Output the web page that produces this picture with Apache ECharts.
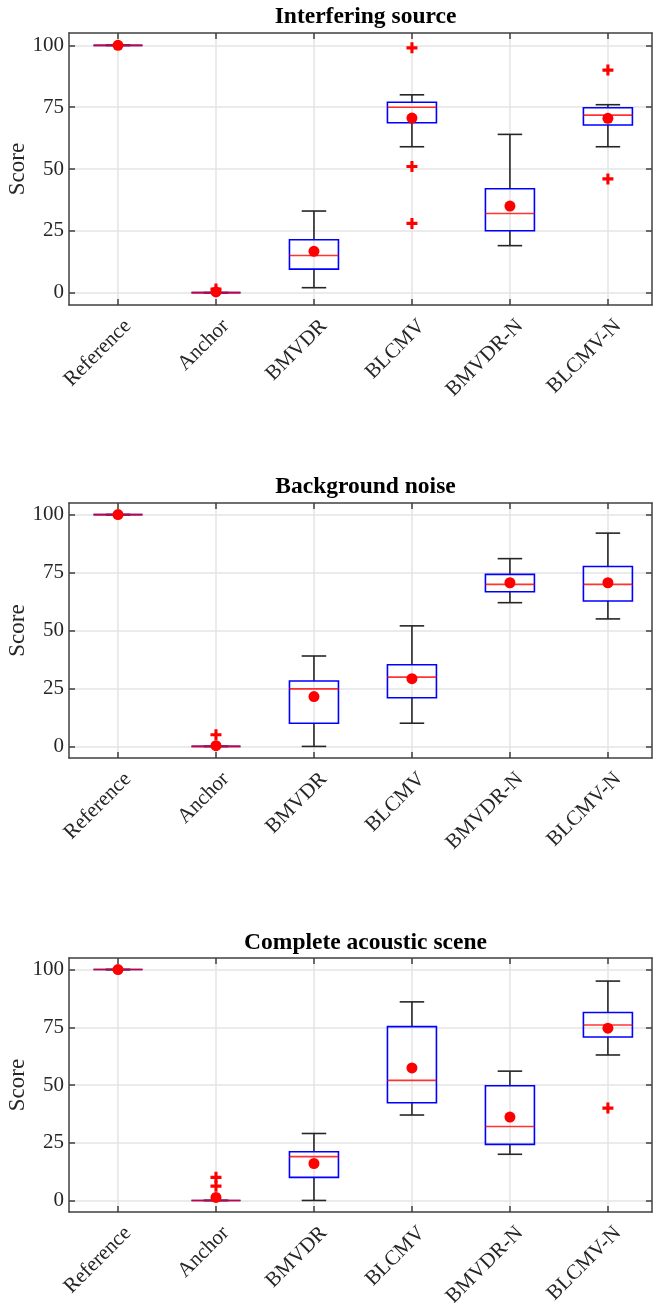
<!DOCTYPE html>
<html>
<head>
<meta charset="utf-8">
<script src="https://cdn.jsdelivr.net/npm/echarts@6/dist/echarts.min.js"></script>
<style>html,body{margin:0;padding:0;background:#fff;}#c{width:654px;height:1303px;}</style>
</head>
<body>
<div id="c"></div>
<script>
// ---------- DATA ----------
const categories = ['Reference', 'Anchor', 'BMVDR', 'BLCMV', 'BMVDR-N', 'BLCMV-N'];
const yTicks = [0, 25, 50, 75, 100];
const titles = ['Interfering source', 'Background noise', 'Complete acoustic scene'];

// Panel 1: Interfering source
const whiskerLow1  = [100, 0, 2, 59, 19, 59];
const q1_1         = [100, 0, 9.5, 68.7, 25, 67.8];
const median1      = [100, 0, 15, 75, 32, 71.8];
const q3_1         = [100, 0, 21.4, 77, 42, 74.8];
const whiskerHigh1 = [100, 0, 33, 80, 64, 76];
const mean1        = [100, 0.3, 16.7, 70.6, 35, 70.5];
const outliers1    = [['Anchor', 1.5], ['BLCMV', 99], ['BLCMV', 51], ['BLCMV', 28], ['BLCMV-N', 90], ['BLCMV-N', 46]];

// Panel 2: Background noise
const whiskerLow2  = [100, 0, 0, 10, 62, 55];
const q1_2         = [100, 0, 10, 21, 66.7, 62.7];
const median2      = [100, 0, 24.8, 29.9, 69.9, 69.9];
const q3_2         = [100, 0, 28.2, 35.2, 74.2, 77.6];
const whiskerHigh2 = [100, 0, 39, 52, 81, 92];
const mean2        = [100, 0.3, 21.5, 29.2, 70.6, 70.6];
const outliers2    = [['Anchor', 5]];

// Panel 3: Complete acoustic scene
const whiskerLow3  = [100, 0, 0, 37, 20, 63];
const q1_3         = [100, 0, 10, 42.3, 24.3, 70.8];
const median3      = [100, 0, 19, 52, 32, 76];
const q3_3         = [100, 0, 21.1, 75.3, 49.7, 81.4];
const whiskerHigh3 = [100, 0, 29, 86, 56, 95];
const mean3        = [100, 1.3, 16, 57.4, 36.1, 74.6];
const outliers3    = [['Anchor', 10], ['Anchor', 6.2], ['BLCMV-N', 40]];

// ---------- LAYOUT ----------
const FONT = '"Liberation Serif", "DejaVu Serif", serif';
const AX = '#404040';
const TXT = '#262626';
const GRIDC = '#e4e4e4';
const panels = [
  {top: 33, height: 272, titleTop: 0, data: [whiskerLow1, q1_1, median1, q3_1, whiskerHigh1, mean1, outliers1]},
  {top: 503, height: 255, titleTop: 470, data: [whiskerLow2, q1_2, median2, q3_2, whiskerHigh2, mean2, outliers2]},
  {top: 958, height: 254, titleTop: 926, data: [whiskerLow3, q1_3, median3, q3_3, whiskerHigh3, mean3, outliers3]}
];
const LEFT = 69, WIDTH = 583;
const catPos = categories.map((c, i) => i + 1);

const option = {
  animation: false,
  backgroundColor: '#fff',
  title: [], grid: [], xAxis: [], yAxis: [], series: []
};

panels.forEach((p, k) => {
  const [lo, q1, med, q3, hi, mean, outl] = p.data;
  option.title.push({
    text: titles[k], left: LEFT + WIDTH / 2, top: p.titleTop, textAlign: 'center',
    textStyle: {fontFamily: FONT, fontWeight: 'bold', fontSize: 23.5, color: '#000'}
  });
  option.grid.push({left: LEFT, top: p.top, width: WIDTH, height: p.height, containLabel: false, outerBoundsMode: 'none'});
  const xBase = {
    type: 'value', gridIndex: k, min: 0.5, max: 6.45,
    axisLine: {show: true, onZero: false, lineStyle: {color: AX, width: 1.5}},
    axisTick: {show: true, inside: true, length: 6, customValues: catPos, lineStyle: {color: AX, width: 1.5}},
    splitLine: {show: false}
  };
  option.xAxis.push(Object.assign({}, xBase, {
    position: 'bottom',
    axisLabel: {show: true, customValues: catPos, rotate: 45, margin: 8, verticalAlign: 'top', lineHeight: 28,
      fontFamily: FONT, fontSize: 21, color: TXT,
      formatter: v => categories[Math.round(v) - 1]},
    splitLine: {show: true, lineStyle: {color: GRIDC, width: 1.5}}
  }));
  option.xAxis.push(Object.assign({}, xBase, {position: 'top', axisLabel: {show: false}}));
  const yBase = {
    type: 'value', gridIndex: k, min: -5, max: 105,
    axisLine: {show: true, onZero: false, lineStyle: {color: AX, width: 1.5}},
    axisTick: {show: true, inside: true, length: 6, customValues: yTicks, lineStyle: {color: AX, width: 1.5}},
    splitLine: {show: false}
  };
  option.yAxis.push(Object.assign({}, yBase, {
    position: 'left', name: 'Score', nameLocation: 'middle', nameGap: 40, nameMoveOverlap: false,
    nameTextStyle: {fontFamily: FONT, fontSize: 23, color: TXT},
    axisLabel: {show: true, customValues: yTicks, margin: 5, fontFamily: FONT, fontSize: 21, color: TXT},
    splitLine: {show: true, lineStyle: {color: GRIDC, width: 1.5}}
  }));
  option.yAxis.push(Object.assign({}, yBase, {position: 'right', axisLabel: {show: false}}));

  const xi = 2 * k, yi = 2 * k;
  const boxData = categories.map((c, i) => [i + 1, lo[i], q1[i], med[i], q3[i], hi[i]]);
  option.series.push({
    type: 'custom', xAxisIndex: xi, yAxisIndex: yi, z: 3,
    data: boxData,
    renderItem: function (params, api) {
      const x = api.value(0);
      const step = api.size([1, 0])[0];
      const bw = step * 0.25, cw = step * 0.125;
      const pLo = api.coord([x, api.value(1)]);
      const pQ1 = api.coord([x, api.value(2)]);
      const pMed = api.coord([x, api.value(3)]);
      const pQ3 = api.coord([x, api.value(4)]);
      const pHi = api.coord([x, api.value(5)]);
      const cx = pLo[0];
      const wStyle = {stroke: '#262626', lineWidth: 1.6, fill: null};
      const children = [
        {type: 'line', shape: {x1: cx, y1: pHi[1], x2: cx, y2: pQ3[1]}, style: wStyle},
        {type: 'line', shape: {x1: cx, y1: pQ1[1], x2: cx, y2: pLo[1]}, style: wStyle},
        {type: 'line', shape: {x1: cx - cw, y1: pHi[1], x2: cx + cw, y2: pHi[1]}, style: wStyle},
        {type: 'line', shape: {x1: cx - cw, y1: pLo[1], x2: cx + cw, y2: pLo[1]}, style: wStyle},
        {type: 'rect', shape: {x: cx - bw, y: pQ3[1], width: 2 * bw, height: pQ1[1] - pQ3[1]},
          style: {stroke: '#0000ff', lineWidth: 1.6, fill: null}},
        {type: 'line', shape: {x1: cx - bw, y1: pMed[1], x2: cx + bw, y2: pMed[1]},
          style: {stroke: '#ff0000', lineWidth: 1.6, opacity: 0.8}}
      ];
      return {type: 'group', children: children};
    }
  });
  option.series.push({
    type: 'scatter', xAxisIndex: xi, yAxisIndex: yi, z: 4,
    symbol: 'path://M3.6,0H6.4V3.6H10V6.4H6.4V10H3.6V6.4H0V3.6H3.6Z', symbolSize: 11,
    itemStyle: {color: '#ff0000', opacity: 1},
    data: outl.map(o => [categories.indexOf(o[0]) + 1, o[1]])
  });
  option.series.push({
    type: 'scatter', xAxisIndex: xi, yAxisIndex: yi, z: 5,
    symbol: 'circle', symbolSize: 11,
    itemStyle: {color: '#ff0000', opacity: 1},
    data: categories.map((c, i) => [i + 1, mean[i]])
  });
});

const chart = echarts.init(document.getElementById('c'), null, {renderer: 'canvas'});
chart.setOption(option);
</script>
</body>
</html>
